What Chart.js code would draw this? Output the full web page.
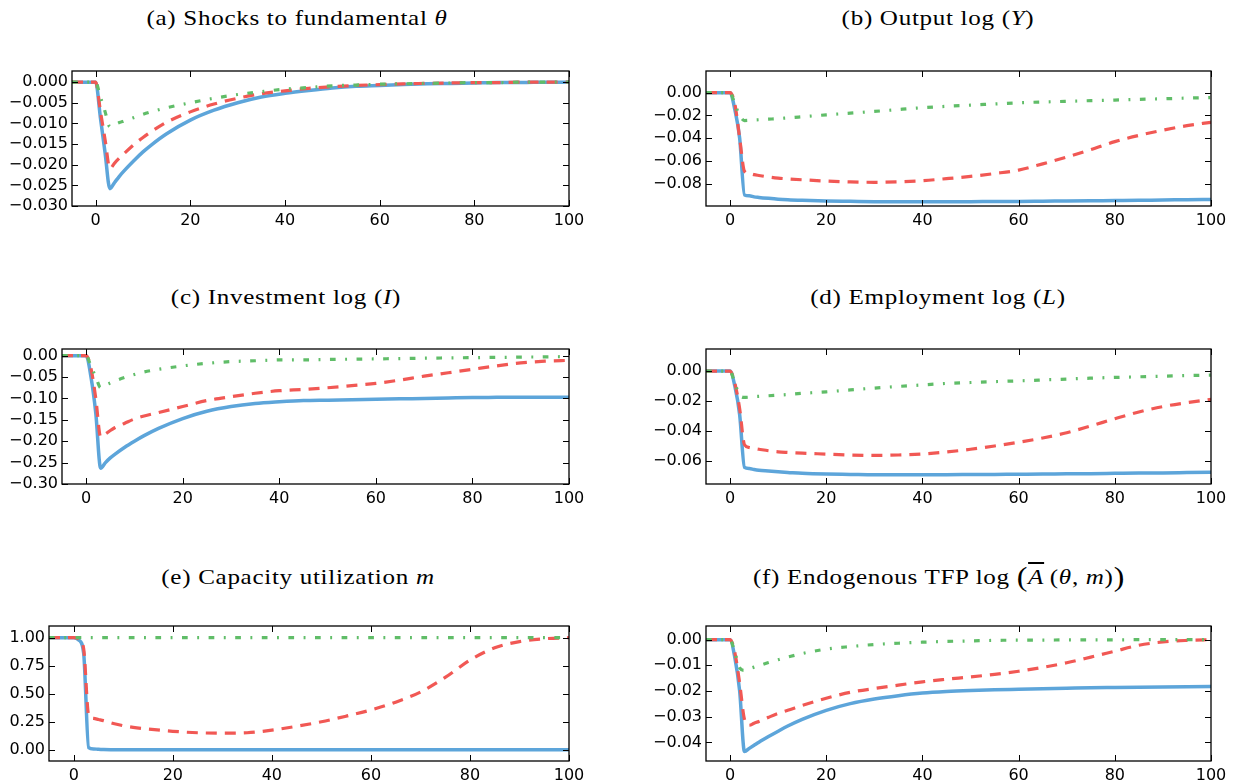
<!DOCTYPE html>
<html><head><meta charset="utf-8">
<script src="https://cdn.jsdelivr.net/npm/chart.js@4.4.0/dist/chart.umd.min.js"></script>
<style>
html,body{margin:0;padding:0;background:#fff;}
#wrap{position:relative;width:1240px;height:784px;overflow:hidden;background:#fff;}
canvas{position:absolute;left:0;top:0;}
.title{position:absolute;transform:translateX(-50%) scaleX(1.14);white-space:nowrap;font-family:"Liberation Serif","DejaVu Serif",serif;font-size:22px;letter-spacing:0.6px;line-height:24px;color:#000;}
.m{font-style:italic;}
.big{font-size:28px;vertical-align:-2px;}
</style></head><body><div id="wrap">
<div class="title" style="left:297px;top:6px">(a) Shocks to fundamental <span class="m">θ</span></div>
<div class="title" style="left:938px;top:6px">(b) Output log (<span class="m">Y</span>)</div>
<div class="title" style="left:286px;top:285px">(c) Investment log (<span class="m">I</span>)</div>
<div class="title" style="left:938px;top:285px">(d) Employment log (<span class="m">L</span>)</div>
<div class="title" style="left:298px;top:565px">(e) Capacity utilization <span class="m">m</span></div>
<div class="title" style="left:939px;top:565px">(f) Endogenous TFP log <span class="big">(</span><span class="m" style="text-decoration:overline">A</span>&thinsp;(<span class="m">θ</span>, <span class="m">m</span>)<span class="big">)</span></div>
<canvas id="ca" width="1240" height="784"></canvas>
<canvas id="cb" width="1240" height="784"></canvas>
<canvas id="cc" width="1240" height="784"></canvas>
<canvas id="cd" width="1240" height="784"></canvas>
<canvas id="ce" width="1240" height="784"></canvas>
<canvas id="cf" width="1240" height="784"></canvas>
</div>
<script>
// time grid (periods)
const t = [-5,0,1,2,3,4,5,6,8,10,12,15,20,25,30,35,40,45,50,55,60,65,70,75,80,85,90,95,100];
const xTicks = [0,20,40,60,80,100];

// (a) Shocks to fundamental theta
const aBlue  = [0,0,-0.0086,-0.0172,-0.0258,-0.0243,-0.0228,-0.0215,-0.0191,-0.0169,-0.0150,-0.0125,-0.0092,-0.0068,-0.0050,-0.0036,-0.0027,-0.0020,-0.0014,-0.0010,-0.0008,-0.0006,-0.0004,-0.0003,-0.0002,-0.0001,-0.0001,0,0];
const aRed   = [0,0,-0.0070,-0.0140,-0.0209,-0.0196,-0.0184,-0.0173,-0.0152,-0.0134,-0.0118,-0.0097,-0.0072,-0.0053,-0.0039,-0.0028,-0.0021,-0.0015,-0.0011,-0.0008,-0.0006,-0.0004,-0.0003,-0.0002,-0.0001,-0.0001,0,0,0];
const aGreen = [0,0,-0.0036,-0.0072,-0.0108,-0.0103,-0.0098,-0.0094,-0.0086,-0.0078,-0.0071,-0.0062,-0.0050,-0.0039,-0.0030,-0.0023,-0.0017,-0.0013,-0.0009,-0.0007,-0.0005,-0.0004,-0.0003,-0.0002,-0.0001,-0.0001,0,0,0];
const aTicks = [0,-0.005,-0.010,-0.015,-0.020,-0.025,-0.030];

// (b) Output log(Y)
const bBlue  = [0,0,-0.015,-0.040,-0.0898,-0.0905,-0.0915,-0.0920,-0.0928,-0.0935,-0.0940,-0.0945,-0.0951,-0.0954,-0.0957,-0.0958,-0.0958,-0.0958,-0.0957,-0.0956,-0.0955,-0.0953,-0.0951,-0.0949,-0.0947,-0.0945,-0.0942,-0.0940,-0.0937];
const bRed   = [0,0,-0.010,-0.040,-0.069,-0.071,-0.0720,-0.0727,-0.0740,-0.0750,-0.0757,-0.0765,-0.0776,-0.0784,-0.0787,-0.0783,-0.0773,-0.0755,-0.0735,-0.0710,-0.0680,-0.0625,-0.0565,-0.0500,-0.0430,-0.0375,-0.0330,-0.0290,-0.0260];
const bGreen = [0,0,-0.010,-0.020,-0.0245,-0.0243,-0.0240,-0.0238,-0.0233,-0.0228,-0.0222,-0.0212,-0.0195,-0.0180,-0.0165,-0.0148,-0.0132,-0.0120,-0.0110,-0.0099,-0.0089,-0.0082,-0.0076,-0.0070,-0.0065,-0.0059,-0.0054,-0.0048,-0.0043];
const bTicks = [0,-0.02,-0.04,-0.06,-0.08];

// (c) Investment log(I)
const cBlue  = [0,0,-0.05,-0.135,-0.263,-0.250,-0.239,-0.230,-0.214,-0.200,-0.187,-0.170,-0.147,-0.130,-0.119,-0.112,-0.108,-0.105,-0.104,-0.103,-0.102,-0.101,-0.100,-0.099,-0.098,-0.0975,-0.097,-0.097,-0.097];
const cRed   = [0,0,-0.03,-0.10,-0.19,-0.183,-0.175,-0.168,-0.158,-0.148,-0.141,-0.133,-0.119,-0.105,-0.096,-0.088,-0.082,-0.079,-0.075,-0.070,-0.065,-0.057,-0.048,-0.040,-0.032,-0.024,-0.017,-0.013,-0.011];
const cGreen = [0,0,-0.025,-0.05,-0.075,-0.069,-0.064,-0.059,-0.051,-0.044,-0.038,-0.032,-0.024,-0.018,-0.014,-0.012,-0.010,-0.0098,-0.009,-0.0083,-0.0077,-0.0068,-0.006,-0.0053,-0.0047,-0.0041,-0.0035,-0.0029,-0.0023];
const cTicks = [0,-0.05,-0.10,-0.15,-0.20,-0.25,-0.30];

// (d) Employment log(L)
const dBlue  = [0,0,-0.010,-0.029,-0.0640,-0.0648,-0.0655,-0.0660,-0.0665,-0.0670,-0.0674,-0.0680,-0.0685,-0.0687,-0.0689,-0.0689,-0.0689,-0.0689,-0.0688,-0.0687,-0.0686,-0.0685,-0.0683,-0.0682,-0.0680,-0.0678,-0.0677,-0.0675,-0.0673];
const dRed   = [0,0,-0.008,-0.025,-0.049,-0.0508,-0.0515,-0.0520,-0.0530,-0.0537,-0.0541,-0.0546,-0.0552,-0.0558,-0.0561,-0.0558,-0.0551,-0.0538,-0.0520,-0.0498,-0.0473,-0.0445,-0.0410,-0.0365,-0.0317,-0.0272,-0.0236,-0.0210,-0.0188];
const dGreen = [0,0,-0.008,-0.016,-0.0175,-0.0173,-0.0170,-0.0168,-0.0164,-0.0160,-0.0156,-0.0148,-0.0138,-0.0125,-0.0113,-0.0102,-0.0092,-0.0082,-0.0076,-0.0070,-0.0065,-0.0059,-0.0053,-0.0047,-0.0042,-0.0038,-0.0034,-0.0030,-0.0027];
const dTicks = [0,-0.02,-0.04,-0.06];

// (e) Capacity utilization m
const eBlue  = [1,1,0.98,0.86,0.02,0.008,0.004,0.002,0.001,0.0005,0,0,0,0,0,0,0,0,0,0,0,0,0,0,0,0,0,0,0];
const eRed   = [1,1,0.99,0.90,0.31,0.28,0.27,0.26,0.235,0.215,0.20,0.185,0.165,0.152,0.148,0.152,0.175,0.21,0.25,0.30,0.355,0.425,0.515,0.645,0.80,0.91,0.965,0.99,1.0];
const eGreen = [1,1,1,1,1,1,1,1,1,1,1,1,1,1,1,1,1,1,1,1,1,1,1,1,1,1,1,1,1];
const eTicks = [0,0.25,0.50,0.75,1.00];

// (f) Endogenous TFP
const fBlue  = [0,0,-0.007,-0.020,-0.0435,-0.0423,-0.0411,-0.0399,-0.0377,-0.0356,-0.0336,-0.0310,-0.0275,-0.0249,-0.0231,-0.0218,-0.0208,-0.0202,-0.0198,-0.0195,-0.0193,-0.0191,-0.0189,-0.0187,-0.0186,-0.0185,-0.0184,-0.0183,-0.0182];
const fRed   = [0,0,-0.005,-0.017,-0.031,-0.0333,-0.0325,-0.0318,-0.0302,-0.0287,-0.0275,-0.0256,-0.0228,-0.0205,-0.0190,-0.0177,-0.0164,-0.0154,-0.0145,-0.0135,-0.0123,-0.0108,-0.0090,-0.0068,-0.0045,-0.0022,-0.0009,-0.0003,0];
const fGreen = [0,0,-0.005,-0.011,-0.0120,-0.0113,-0.0107,-0.0101,-0.0089,-0.0078,-0.0068,-0.0054,-0.0037,-0.0027,-0.0019,-0.0014,-0.0010,-0.0007,-0.0005,-0.0003,-0.0002,-0.0002,-0.0001,-0.0001,-0.0001,0,0,0,0];
const fTicks = [0,-0.01,-0.02,-0.03,-0.04];

const BLUE = '#5DA5DA', RED = '#F15854', GREEN = '#60BD68';

const panels = [
  {id:'ca', box:[72,71,569,206],  ymin:-0.030, ymax:0.0027, ticks:aTicks, dec:3, s:[aBlue,aRed,aGreen]},
  {id:'cb', box:[706,71,1211,206], ymin:-0.0995, ymax:0.019, ticks:bTicks, dec:2, s:[bBlue,bRed,bGreen]},
  {id:'cc', box:[62,349,569,484],  ymin:-0.30, ymax:0.0155, ticks:cTicks, dec:2, s:[cBlue,cRed,cGreen]},
  {id:'cd', box:[706,349,1211,484], ymin:-0.0751, ymax:0.0147, ticks:dTicks, dec:2, s:[dBlue,dRed,dGreen]},
  {id:'ce', box:[49,626,569,761],  ymin:-0.10, ymax:1.104, ticks:eTicks, dec:2, s:[eBlue,eRed,eGreen]},
  {id:'cf', box:[706,626,1211,761], ymin:-0.0472, ymax:0.0053, ticks:fTicks, dec:2, s:[fBlue,fRed,fGreen]}
];

const frameTicks = {
  id:'frameTicks',
  afterDatasetsDraw(chart){
    const {ctx, chartArea:a, scales:{x,y}} = chart;
    const L = 6;
    ctx.save();
    ctx.strokeStyle = '#000';
    ctx.lineWidth = 1;
    ctx.beginPath();
    x.ticks.forEach(tk=>{
      const px = Math.round(x.getPixelForValue(tk.value)) + 0.5;
      ctx.moveTo(px, a.bottom); ctx.lineTo(px, a.bottom - L);
      ctx.moveTo(px, a.top); ctx.lineTo(px, a.top + L);
    });
    y.ticks.forEach(tk=>{
      const py = Math.round(y.getPixelForValue(tk.value)) + 0.5;
      ctx.moveTo(a.left, py); ctx.lineTo(a.left + L, py);
      ctx.moveTo(a.right, py); ctx.lineTo(a.right - L, py);
    });
    ctx.stroke();
    ctx.lineWidth = 1.3;
    ctx.strokeRect(a.left, a.top, a.right - a.left, a.bottom - a.top);
    ctx.restore();
  }
};

const fmt = (v, d) => v.toFixed(d).replace('-', '\u2212');
const tickFont = {family:'"DejaVu Sans", sans-serif', size:16};

panels.forEach(p=>{
  const [L,T,R,B] = p.box;
  const mk = (arr, color, dash, w, order) => ({
    data: t.map((v,i)=>({x:v, y:arr[i]})),
    borderColor: color, borderWidth: w, borderDash: dash,
    pointRadius: 0, fill: false, cubicInterpolationMode: 'monotone',
    borderCapStyle: 'butt', order: order
  });
  new Chart(document.getElementById(p.id), {
    type:'line',
    data:{datasets:[
      mk(p.s[0], BLUE, [], 3.5, 3),
      mk(p.s[1], RED, [11,8], 3.2, 2),
      mk(p.s[2], GREEN, [5.7,9.5,1.9,9.5], 3.2, 1)
    ]},
    options:{
      responsive:false, animation:false, events:[],
      layout:{padding:{left:0, top:T, right:1240-R, bottom:0}},
      plugins:{legend:{display:false}, tooltip:{enabled:false}, title:{display:false}},
      scales:{
        x:{type:'linear', min:-5, max:100,
           grid:{display:false, drawTicks:false}, border:{display:false},
           afterBuildTicks: s => { s.ticks = xTicks.map(v=>({value:v})); },
           afterFit: s => { s.height = 784 - B; },
           ticks:{font:tickFont, color:'#000', padding:5, maxRotation:0, autoSkip:false,
                  callback: v => String(v)}},
        y:{type:'linear', min:p.ymin, max:p.ymax,
           grid:{display:false, drawTicks:false}, border:{display:false},
           afterBuildTicks: s => { s.ticks = p.ticks.map(v=>({value:v})); },
           afterFit: s => { s.width = L; },
           ticks:{font:tickFont, color:'#000', padding:4, autoSkip:false,
                  callback: v => fmt(v, p.dec)}}
      }
    },
    plugins:[frameTicks]
  });
});
</script>
</body></html>
